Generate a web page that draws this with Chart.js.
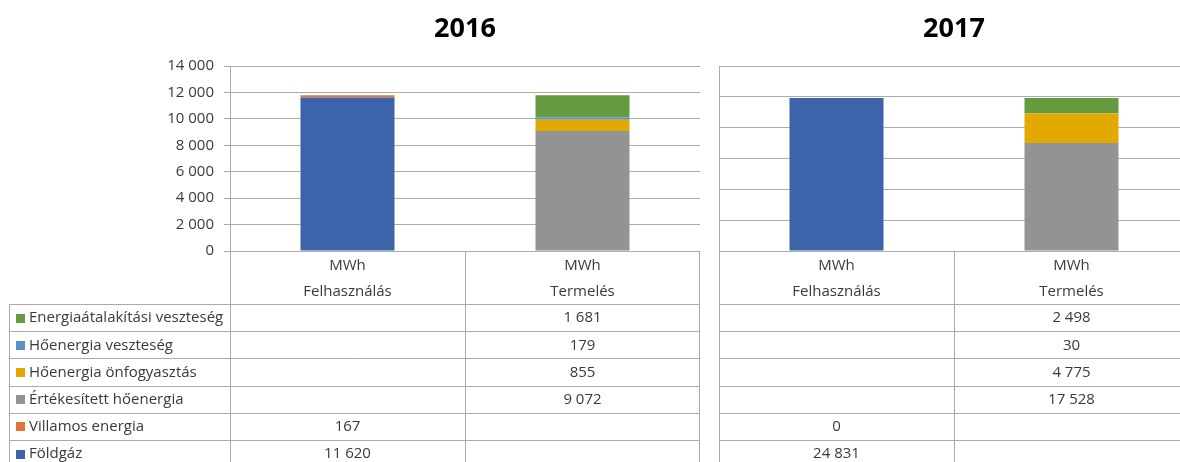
<!DOCTYPE html>
<html>
<head>
<meta charset="utf-8">
<script src="https://cdn.jsdelivr.net/npm/chart.js@4.4.1/dist/chart.umd.min.js"></script>
<style>
  html, body { margin: 0; padding: 0; background: #fff; overflow: hidden; width: 1180px; height: 462px; }
  #c2016 { position: absolute; left: 0; top: 0; }
  #c2017 { position: absolute; left: 700px; top: 0; }
</style>
</head>
<body>
<canvas id="c2016" width="700" height="462"></canvas>
<canvas id="c2017" width="489" height="462"></canvas>
<script>
// categories and units
const categories = ['Felhasználás', 'Termelés'];
const unitLabel = 'MWh';

// series, bottom of the stack first
const seriesNames = ['Földgáz', 'Villamos energia', 'Értékesített hőenergia', 'Hőenergia önfogyasztás', 'Hőenergia veszteség', 'Energiaátalakítási veszteség'];
const seriesColors = ['#3d64ab', '#e0773a', '#939393', '#e2aa00', '#5a91c9', '#659b3f'];

// 2016 values (MWh)
const foldgaz2016 = [11620, null];
const villamos2016 = [167, null];
const ertekesitett2016 = [null, 9072];
const onfogyasztas2016 = [null, 855];
const hoVeszteseg2016 = [null, 179];
const atalakitasi2016 = [null, 1681];

// 2017 values (MWh)
const foldgaz2017 = [24831, null];
const villamos2017 = [0, null];
const ertekesitett2017 = [null, 17528];
const onfogyasztas2017 = [null, 4775];
const hoVeszteseg2017 = [null, 30];
const atalakitasi2017 = [null, 2498];

// y axis ranges
const yMax2016 = 14000, yStep2016 = 2000;
const yMax2017 = 30000, yStep2017 = 5000;

const FONT = "'Open Sans', 'DejaVu Sans', sans-serif";
const LINE = '#ababab';
const TEXT = '#3a3a3a';

Chart.defaults.font.family = FONT;

const fmt = v => String(v).replace(/\B(?=(\d{3})+(?!\d))/g, ' ');

function makeDatasets(list) {
    return list.map((data, i) => ({
        label: seriesNames[i],
        data: data,
        backgroundColor: seriesColors[i],
        borderWidth: 0,
        categoryPercentage: 1,
        barPercentage: 0.4
    }));
}

// draws the year title and the data table under the plot
const dataTablePlugin = {
    id: 'dataTable',
    afterDraw(chart, args, opts) {
        const ctx = chart.ctx;
        const area = chart.chartArea;
        const xs = chart.scales.x;
        const rowTop = 304.5;
        const rowH = 27.2;
        const nRows = chart.data.datasets.length;
        const bottom = rowTop + rowH * nRows;
        const crisp = v => Math.round(v) + 0.5;

        ctx.save();

        // title
        ctx.fillStyle = '#000';
        ctx.font = 'bold 27px ' + FONT;
        ctx.textAlign = 'center';
        ctx.textBaseline = 'alphabetic';
        ctx.fillText(opts.title, (area.left + area.right) / 2, 37);

        // grid of the table
        const mid = (xs.getPixelForValue(0) + xs.getPixelForValue(1)) / 2;
        const tableLeft = opts.legend ? 9 : area.left;
        ctx.strokeStyle = LINE;
        ctx.lineWidth = 1;
        ctx.beginPath();
        [area.left, mid, area.right - 1].forEach(x => {
            ctx.moveTo(crisp(x), area.bottom);
            ctx.lineTo(crisp(x), bottom);
        });
        if (opts.legend) {
            ctx.moveTo(crisp(tableLeft), rowTop);
            ctx.lineTo(crisp(tableLeft), bottom);
        }
        for (let r = 0; r <= nRows; r++) {
            const y = crisp(rowTop + r * rowH - 0.5);
            ctx.moveTo(tableLeft, y);
            ctx.lineTo(area.right, y);
        }
        ctx.stroke();

        // header
        ctx.fillStyle = TEXT;
        ctx.font = '15px ' + FONT;
        ctx.textAlign = 'center';
        ctx.textBaseline = 'middle';
        categories.forEach((c, j) => {
            const x = xs.getPixelForValue(j);
            ctx.fillText(unitLabel, x, 266);
            ctx.fillText(c, x, 292);
        });

        // rows, top of the stack first
        for (let r = 0; r < nRows; r++) {
            const ds = chart.data.datasets[nRows - 1 - r];
            const yc = rowTop + r * rowH + rowH / 2;
            if (opts.legend) {
                ctx.fillStyle = ds.backgroundColor;
                ctx.fillRect(16, Math.round(yc - 4.5), 9, 9);
                ctx.fillStyle = TEXT;
                ctx.textAlign = 'left';
                ctx.fillText(ds.label, 29, yc);
            }
            ctx.fillStyle = TEXT;
            ctx.textAlign = 'center';
            ds.data.forEach((v, j) => {
                if (v !== null) ctx.fillText(fmt(v), xs.getPixelForValue(j), yc);
            });
        }
        ctx.restore();
    }
};

function makeChart(id, title, datasets, yMax, yStep, showAxisLabels) {
    return new Chart(document.getElementById(id), {
        type: 'bar',
        data: { labels: categories, datasets: datasets },
        options: {
            responsive: false,
            animation: false,
            layout: {
                padding: { top: 66, bottom: 211, left: showAxisLabels ? 0 : 19, right: 0 }
            },
            plugins: {
                legend: { display: false },
                tooltip: { enabled: false },
                dataTable: { title: title, legend: showAxisLabels }
            },
            scales: {
                x: { display: false, stacked: true },
                y: {
                    stacked: true,
                    min: 0,
                    max: yMax,
                    afterFit: s => { s.width = showAxisLabels ? 230 : 0; },
                    ticks: {
                        display: showAxisLabels,
                        stepSize: yStep,
                        color: TEXT,
                        font: { size: 15 },
                        padding: 10,
                        callback: v => fmt(v)
                    },
                    grid: { color: LINE, lineWidth: 1, drawTicks: showAxisLabels, tickLength: 6 },
                    border: { color: LINE }
                }
            }
        },
        plugins: [dataTablePlugin]
    });
}

makeChart('c2016', '2016', makeDatasets([foldgaz2016, villamos2016, ertekesitett2016, onfogyasztas2016, hoVeszteseg2016, atalakitasi2016]), yMax2016, yStep2016, true);
makeChart('c2017', '2017', makeDatasets([foldgaz2017, villamos2017, ertekesitett2017, onfogyasztas2017, hoVeszteseg2017, atalakitasi2017]), yMax2017, yStep2017, false);
</script>
</body>
</html>
